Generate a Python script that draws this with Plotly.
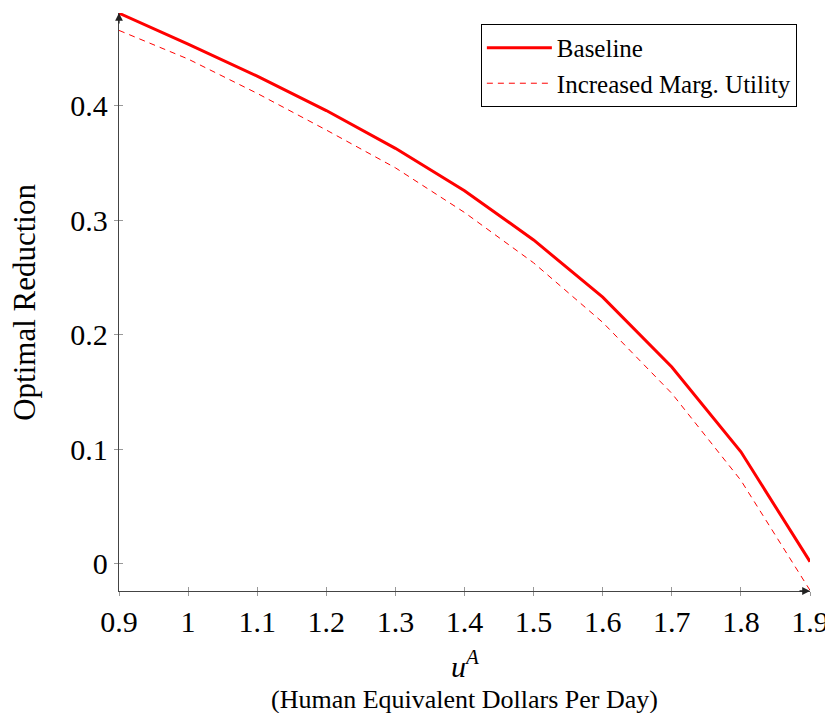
import plotly.graph_objects as go

u_a = [0.9, 1.0, 1.1, 1.2, 1.3, 1.4, 1.5, 1.6, 1.7, 1.8, 1.9]
baseline = [0.481, 0.454, 0.426, 0.396, 0.363, 0.326, 0.283, 0.233, 0.172, 0.098, 0.002]
increased = [0.466, 0.441, 0.411, 0.379, 0.346, 0.307, 0.263, 0.211, 0.149, 0.073, -0.023]

x_ticks = [0.9, 1.0, 1.1, 1.2, 1.3, 1.4, 1.5, 1.6, 1.7, 1.8, 1.9]
x_tick_labels = ["0.9", "1", "1.1", "1.2", "1.3", "1.4", "1.5", "1.6", "1.7", "1.8", "1.9"]
y_ticks = [0, 0.1, 0.2, 0.3, 0.4]
y_tick_labels = ["0", "0.1", "0.2", "0.3", "0.4"]

FONT = "Liberation Serif"
x_range = [0.9, 1.9]
y_range = [-0.0236, 0.4812]

fig = go.Figure()
fig.add_trace(go.Scatter(x=u_a, y=baseline, mode="lines", name="Baseline",
                         line=dict(color="#ff0000", width=3)))
fig.add_trace(go.Scatter(x=u_a, y=increased, mode="lines", name="Increased Marg. Utility",
                         line=dict(color="#ff0000", width=1, dash="6px,5px")))

# invisible trace on overlay axes for inside ticks
fig.add_trace(go.Scatter(x=[x_range[0]], y=[y_range[0]], xaxis="x2", yaxis="y2",
                         mode="markers", marker=dict(opacity=0), showlegend=False, hoverinfo="skip"))

axis_common = dict(showgrid=False, zeroline=False, ticks="outside", ticklen=4,
                   tickcolor="#999999", tickwidth=1, showline=True, linecolor="#444444",
                   linewidth=1.3, automargin=False,
                   tickfont=dict(family=FONT, size=30, color="black"))

fig.update_layout(
    width=825, height=705,
    margin=dict(l=111, r=23, t=5, b=122),
    plot_bgcolor="white", paper_bgcolor="white",
    xaxis=dict(range=x_range, tickvals=x_ticks, ticktext=x_tick_labels, **axis_common),
    yaxis=dict(range=y_range, tickvals=y_ticks, ticktext=y_tick_labels, **axis_common),
    xaxis2=dict(range=x_range, overlaying="x", tickvals=x_ticks, ticks="inside", ticklen=4,
                tickcolor="#999999", showticklabels=False, showgrid=False, zeroline=False,
                showline=False, automargin=False),
    yaxis2=dict(range=y_range, overlaying="y", tickvals=y_ticks, ticks="inside", ticklen=4,
                tickcolor="#999999", showticklabels=False, showgrid=False, zeroline=False,
                showline=False, automargin=False),
    legend=dict(x=0.981, y=0.981, xanchor="right", yanchor="top",
                bordercolor="black", borderwidth=1, bgcolor="white",
                font=dict(family=FONT, size=25, color="black"),
                itemwidth=65, tracegroupgap=0),
    showlegend=True,
)

fig.add_annotation(text="<i>u</i><sup><i>A</i></sup>", xref="paper", yref="paper",
                   x=0.5, y=-0.127, showarrow=False, yanchor="middle",
                   font=dict(family=FONT, size=30, color="black"))
fig.add_annotation(text="(Human Equivalent Dollars Per Day)", xref="paper", yref="paper",
                   x=0.5, y=-0.187, showarrow=False, yanchor="middle",
                   font=dict(family=FONT, size=26, color="black"))
fig.add_annotation(text="Optimal Reduction", xref="paper", yref="paper",
                   x=-0.166, y=0.5, showarrow=False, textangle=-90,
                   font=dict(family=FONT, size=31, color="black"))

# axis arrow heads
fig.add_annotation(xref="paper", yref="paper", x=0, y=1, ax=0, ay=12, axref="pixel", ayref="pixel",
                   showarrow=True, arrowhead=2, arrowsize=1.2, arrowwidth=1.3, arrowcolor="#222222", text="")
fig.add_annotation(xref="paper", yref="paper", x=1, y=0, ax=-12, ay=0, axref="pixel", ayref="pixel",
                   showarrow=True, arrowhead=2, arrowsize=1.2, arrowwidth=1.3, arrowcolor="#222222", text="")

fig.write_html("out.html")
